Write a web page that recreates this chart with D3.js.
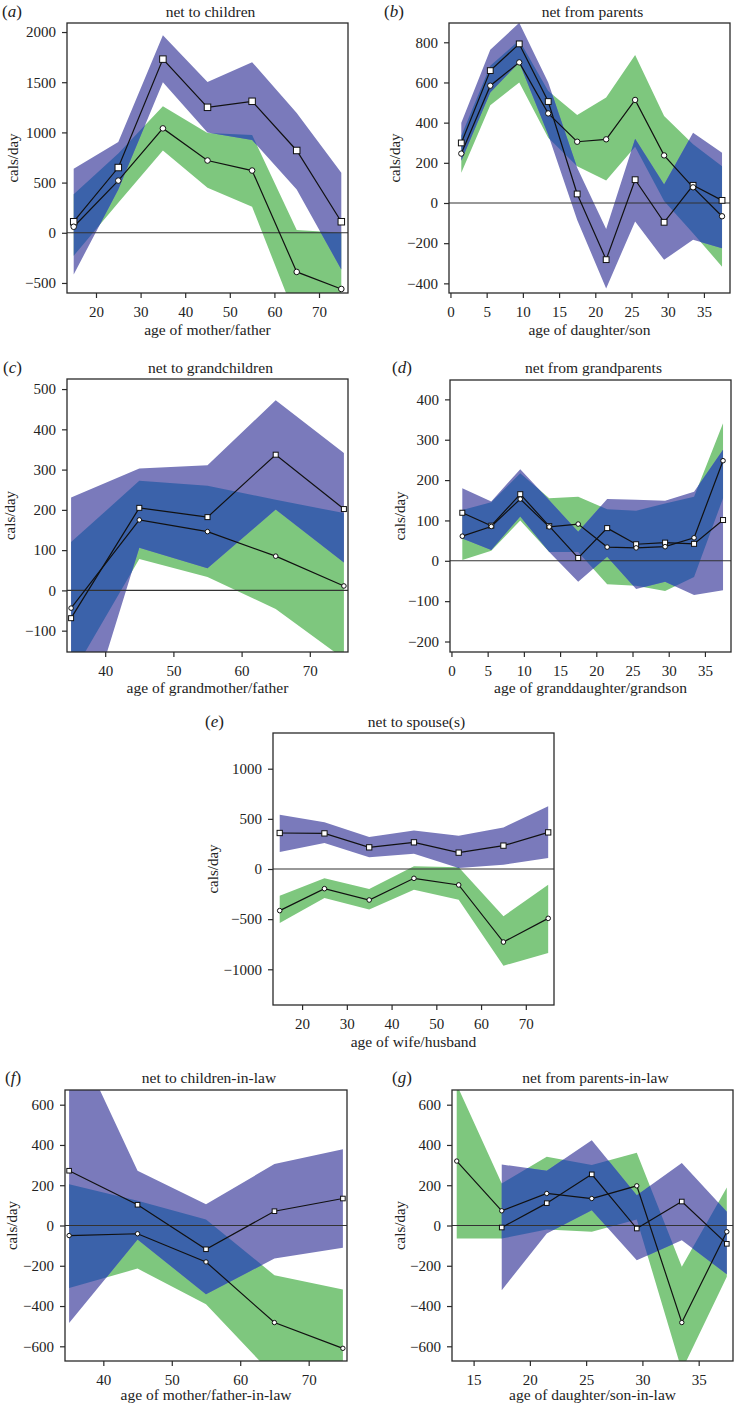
<!DOCTYPE html>
<html><head><meta charset="utf-8">
<script src="https://cdn.jsdelivr.net/npm/d3@7"></script>
<style>
body{margin:0;background:#fff}
svg{display:block;background:#fff}
text{font-family:"Liberation Serif","Times New Roman",serif;fill:#222}
</style>
</head><body>
<svg id="chart" width="734" height="1405"></svg>
<script>
// ---------- ages (x categories) ----------
const agesParent = [15, 25, 35, 45, 55, 65, 75];
const agesGrand = [35, 45, 55, 65, 75];
const agesChild = [1.5, 5.5, 9.5, 13.5, 17.5, 21.5, 25.5, 29.5, 33.5, 37.5];
const agesChildInLaw = [13.5, 17.5, 21.5, 25.5, 29.5, 33.5, 37.5];

// ---------- (a) net to children ----------
const aSq   = [110, 650, 1730, 1250, 1310, 820, 110];
const aSqLo = [-415, 430, 1500, 1000, 925, 430, -365];
const aSqHi = [637, 905, 1967, 1502, 1700, 1194, 597];
const aCi   = [60, 520, 1040, 720, 620, -390, -560];
const aCiLo = [-230, 300, 820, 448, 259, -870, -1000];
const aCiHi = [385, 790, 1260, 995, 975, 27, 0];

// ---------- (b) net from parents ----------
const bSq   = [299, 659, 792, 505, 45, -282, 116, -96, 88, 13];
const bSqLo = [210, 550, 700, 340, -85, -425, -92, -283, -183, -225];
const bSqHi = [400, 763, 897, 600, 175, -130, 320, 92, 350, 250];
const bCi   = [246, 584, 700, 446, 305, 317, 513, 237, 78, -66];
const bCiLo = [150, 487, 600, 325, 183, 112, 280, 10, -150, -317];
const bCiHi = [335, 683, 810, 558, 438, 525, 737, 433, 292, 183];

// ---------- (c) net to grandchildren ----------
const cSq   = [-69, 205, 182, 337, 202];
const cSqLo = [-442, 106, 55, 201, 69];
const cSqHi = [231, 303, 311, 472, 341];
const cCi   = [-44, 175, 146, 85, 11];
const cCiLo = [-213, 78, 33, -46, -170];
const cCiHi = [120, 272, 260, 225, 192];

// ---------- (d) net from grandparents ----------
const dSq   = [119, 87, 165, 86, 7, 81, 41, 45, 42, 101];
const dSqLo = [55, 27, 110, 22, -52, 10, -70, -52, -85, -73];
const dSqHi = [180, 147, 227, 150, 72, 153, 151, 149, 171, 275];
const dCi   = [61, 85, 153, 84, 91, 34, 32, 35, 57, 248];
const dCiLo = [2, 25, 100, 22, 22, -58, -62, -75, -40, 155];
const dCiHi = [126, 145, 217, 155, 159, 128, 124, 142, 159, 341];

// ---------- (e) net to spouse(s) ----------
const eSq   = [359, 355, 216, 266, 163, 233, 365];
const eSqLo = [169, 259, 116, 153, 10, 43, 110];
const eSqHi = [541, 465, 319, 385, 332, 415, 625];
const eCi   = [-415, -196, -309, -93, -159, -728, -492];
const eCiLo = [-538, -289, -405, -206, -306, -964, -838];
const eCiHi = [-266, -93, -199, 27, 17, -472, -156];

// ---------- (f) net to children-in-law ----------
const fSq   = [272, 103, -118, 71, 134];
const fSqLo = [-484, -70, -341, -164, -111];
const fSqHi = [1000, 272, 106, 305, 379];
const fCi   = [-50, -41, -181, -482, -610];
const fCiLo = [-310, -214, -391, -750, -900];
const fCiHi = [205, 123, 30, -247, -318];

// ---------- (g) net from parents-in-law ----------
const gSq   = [null, -10, 111, 254, -15, 119, -91];
const gSqLo = [null, -321, -40, 76, -172, -73, -242];
const gSqHi = [null, 303, 272, 424, 150, 311, 68];
const gCi   = [320, 73, 159, 134, 197, -482, -31];
const gCiLo = [-65, -65, -20, -31, 30, -720, -255];
const gCiHi = [700, 209, 341, 300, 361, -205, 189];

// ---------- tick labels ----------
const xTicksParent = [20, 30, 40, 50, 60, 70];
const xTicksGrand = [40, 50, 60, 70];
const xTicksChild = [0, 5, 10, 15, 20, 25, 30, 35];
const xTicksInLaw = [15, 20, 25, 30, 35];
const yTicksA = [-500, 0, 500, 1000, 1500, 2000];
const yTicksB = [-400, -200, 0, 200, 400, 600, 800];
const yTicksC = [-100, 0, 100, 200, 300, 400, 500];
const yTicksD = [-200, -100, 0, 100, 200, 300, 400];
const yTicksE = [-1000, -500, 0, 500, 1000];
const yTicksFG = [-600, -400, -200, 0, 200, 400, 600];

// ---------- titles ----------
const panelLetters = ["a", "b", "c", "d", "e", "f", "g"];
const panelTitles = ["net to children", "net from parents", "net to grandchildren", "net from grandparents",
  "net to spouse(s)", "net to children-in-law", "net from parents-in-law"];
const xTitles = ["age of mother/father", "age of daughter/son", "age of grandmother/father",
  "age of granddaughter/grandson", "age of wife/husband", "age of mother/father-in-law",
  "age of daughter/son-in-law"];
const yTitle = "cals/day";

const PURPLE = "#7a7abb", GREEN = "#7ec77e", BLUE = "#3b62aa";

const panels = [
  {ages: agesParent, sq: aSq, sqLo: aSqLo, sqHi: aSqHi, ci: aCi, ciLo: aCiLo, ciHi: aCiHi,
   xDomain: [13.5, 76.5], yDomain: [-600, 2090], xTicks: xTicksParent, yTicks: yTicksA,
   frame: [67, 23, 348, 293], yTitleX: 13, labelX: 2, labelY: 17, titleY: 17, xTitleDy: 42, ms: 6.5, mr: 2.8},
  {ages: agesChild, sq: bSq, sqLo: bSqLo, sqHi: bSqHi, ci: bCi, ciLo: bCiLo, ciHi: bCiHi,
   xDomain: [-0.2, 38.6], yDomain: [-448, 896], xTicks: xTicksChild, yTicks: yTicksB,
   frame: [449, 23, 730, 293], yTitleX: 395, labelX: 384, labelY: 17, titleY: 17, xTitleDy: 42, ms: 5.8, mr: 2.7},
  {ages: agesGrand, sq: cSq, sqLo: cSqLo, sqHi: cSqHi, ci: cCi, ciLo: cCiLo, ciHi: cCiHi,
   xDomain: [34.4, 75.6], yDomain: [-153, 525], xTicks: xTicksGrand, yTicks: yTicksC,
   frame: [67, 379, 348, 652], yTitleX: 10, labelX: 3, labelY: 373, titleY: 373, xTitleDy: 41, ms: 5, mr: 2.3},
  {ages: agesChild, sq: dSq, sqLo: dSqLo, sqHi: dSqHi, ci: dCi, ciLo: dCiLo, ciHi: dCiHi,
   xDomain: [-0.2, 38.6], yDomain: [-226, 448], xTicks: xTicksChild, yTicks: yTicksD,
   frame: [450, 380, 731, 652], yTitleX: 400, labelX: 392, labelY: 373, titleY: 373, xTitleDy: 41, ms: 5, mr: 2.3},
  {ages: agesParent, sq: eSq, sqLo: eSqLo, sqHi: eSqHi, ci: eCi, ciLo: eCiLo, ciHi: eCiHi,
   xDomain: [13.5, 76.3], yDomain: [-1356, 1356], xTicks: xTicksParent, yTicks: yTicksE,
   frame: [273, 733, 554, 1005], yTitleX: 213, labelX: 205, labelY: 727, titleY: 727, xTitleDy: 42, ms: 5.3, mr: 2.3},
  {ages: agesGrand, sq: fSq, sqLo: fSqLo, sqHi: fSqHi, ci: fCi, ciLo: fCiLo, ciHi: fCiHi,
   xDomain: [34.4, 75.6], yDomain: [-673, 673], xTicks: xTicksGrand, yTicks: yTicksFG,
   frame: [65, 1090, 347, 1361], yTitleX: 12, labelX: 5, labelY: 1083, titleY: 1083, xTitleDy: 39, ms: 4.6, mr: 2.2},
  {ages: agesChildInLaw, sq: gSq, sqLo: gSqLo, sqHi: gSqHi, ci: gCi, ciLo: gCiLo, ciHi: gCiHi,
   xDomain: [13.08, 38.05], yDomain: [-673, 673], xTicks: xTicksInLaw, yTicks: yTicksFG,
   frame: [452, 1090, 733, 1361], yTitleX: 400, labelX: 392, labelY: 1083, titleY: 1083, xTitleDy: 39, ms: 4.6, mr: 2.2}
];

const svg = d3.select("#chart");
const defs = svg.append("defs");
const fmt = d3.format("d");

panels.forEach((p, k) => {
  const id = panelLetters[k];
  const [L, T, R, B] = p.frame;
  const x = d3.scaleLinear().domain(p.xDomain).range([L, R]);
  const y = d3.scaleLinear().domain(p.yDomain).range([B, T]);
  const g = svg.append("g");
  const idx = d3.range(p.ages.length);

  defs.append("clipPath").attr("id", "frame-" + id)
    .append("rect").attr("x", L).attr("y", T).attr("width", R - L).attr("height", B - T);

  const areaD = (lo, hi) => d3.area()
    .defined(i => lo[i] != null)
    .x(i => x(p.ages[i])).y0(i => y(lo[i])).y1(i => y(hi[i]))(idx);
  const greenD = areaD(p.ciLo, p.ciHi);
  const purpleD = areaD(p.sqLo, p.sqHi);
  defs.append("clipPath").attr("id", "green-" + id).append("path").attr("d", greenD);

  const plot = g.append("g").attr("clip-path", `url(#frame-${id})`);
  plot.append("path").attr("d", greenD).attr("fill", GREEN);
  plot.append("path").attr("d", purpleD).attr("fill", PURPLE);
  plot.append("path").attr("d", purpleD).attr("fill", BLUE).attr("clip-path", `url(#green-${id})`);

  plot.append("line").attr("x1", L).attr("x2", R).attr("y1", y(0)).attr("y2", y(0))
    .attr("stroke", "#333").attr("stroke-width", 1.1);

  const lineGen = vals => d3.line().defined(i => vals[i] != null)
    .x(i => x(p.ages[i])).y(i => y(vals[i]))(idx);
  plot.append("path").attr("d", lineGen(p.sq)).attr("fill", "none").attr("stroke", "#111").attr("stroke-width", 1.2);
  plot.append("path").attr("d", lineGen(p.ci)).attr("fill", "none").attr("stroke", "#111").attr("stroke-width", 1.2);

  const mk = g.append("g");
  mk.selectAll("rect.sq").data(idx.filter(i => p.sq[i] != null)).join("rect")
    .attr("x", i => x(p.ages[i]) - p.ms / 2).attr("y", i => y(p.sq[i]) - p.ms / 2)
    .attr("width", p.ms).attr("height", p.ms)
    .attr("fill", "#fff").attr("stroke", "#111").attr("stroke-width", 1);
  mk.selectAll("circle.ci").data(idx.filter(i => p.ci[i] != null)).join("circle")
    .attr("cx", i => x(p.ages[i])).attr("cy", i => y(p.ci[i])).attr("r", p.mr)
    .attr("fill", "#fff").attr("stroke", "#111").attr("stroke-width", 1);

  // frame
  g.append("rect").attr("x", L).attr("y", T).attr("width", R - L).attr("height", B - T)
    .attr("fill", "none").attr("stroke", "#2a2a2a").attr("stroke-width", 1.3);

  // axes
  const ax = g.append("g").attr("transform", `translate(0,${B})`)
    .call(d3.axisBottom(x).tickValues(p.xTicks).tickFormat(fmt).tickSize(5).tickPadding(8));
  const ay = g.append("g").attr("transform", `translate(${L},0)`)
    .call(d3.axisLeft(y).tickValues(p.yTicks).tickFormat(fmt).tickSize(5).tickPadding(6));
  [ax, ay].forEach(a => {
    a.select(".domain").remove();
    a.selectAll(".tick line").attr("stroke", "#2a2a2a").attr("stroke-width", 1.2);
    a.selectAll(".tick text").attr("font-family", '"Liberation Serif","Times New Roman",serif')
      .attr("font-size", 15).attr("fill", "#222");
  });

  // titles
  g.append("text").attr("x", (L + R) / 2 + 3).attr("y", p.titleY).attr("text-anchor", "middle")
    .attr("font-size", 15.5).text(panelTitles[k]);
  g.append("text").attr("x", (L + R) / 2).attr("y", B + p.xTitleDy).attr("text-anchor", "middle")
    .attr("font-size", 15.5).text(xTitles[k]);
  g.append("text").attr("transform", `translate(${p.yTitleX},${(T + B) / 2}) rotate(-90)`)
    .attr("text-anchor", "middle").attr("dominant-baseline", "central")
    .attr("font-size", 15).text(yTitle);
  const lab = g.append("text").attr("x", p.labelX).attr("y", p.labelY).attr("font-size", 17);
  lab.append("tspan").text("(");
  lab.append("tspan").attr("font-style", "italic").text(id);
  lab.append("tspan").text(")");
});
</script>
</body></html>
